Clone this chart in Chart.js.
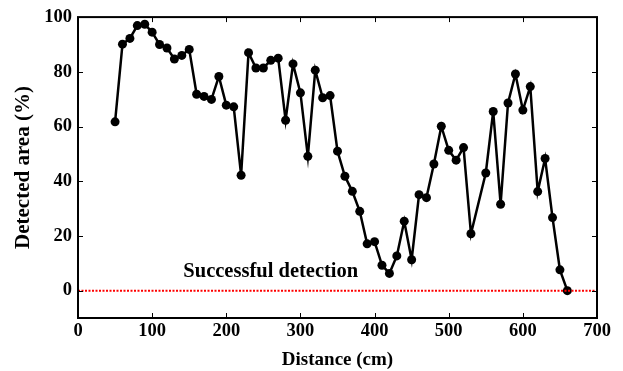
<!DOCTYPE html>
<html>
<head>
<meta charset="utf-8">
<script src="https://cdn.jsdelivr.net/npm/chart.js@4/dist/chart.umd.min.js"></script>
<style>
  html, body { margin: 0; padding: 0; background: #fff; }
  #wrap { width: 623px; height: 371px; }
</style>
</head>
<body>
<div id="wrap"><canvas id="c" width="623" height="371"></canvas></div>
<script>
// ---- data ----
const distances = [50,60,70,80,90,100,110,120,130,140,150,160,170,180,190,200,210,220,230,240,250,260,270,280,290,300,310,320,330,340,350,360,370,380,390,400,410,420,430,440,450,460,470,480,490,500,510,520,530,550,560,570,580,590,600,610,620,630,640,650,660];
const detected = [61.7,90.1,92.2,96.9,97.4,94.5,90.0,88.7,84.7,86.0,88.2,71.8,71.0,69.9,78.3,67.8,67.2,42.2,87.0,81.4,81.4,84.2,85.0,62.3,82.9,72.3,49.1,80.6,70.5,71.3,51.0,41.8,36.3,29.0,17.1,17.9,9.3,6.3,12.7,25.4,11.3,35.1,34.0,46.3,60.1,51.3,47.7,52.3,20.8,43.0,65.5,31.6,68.6,79.2,66.0,74.6,36.2,48.3,26.7,7.6,0];
const thresholdX = [0, 700];
const thresholdY = [0, 0];
const xTicks = [0,100,200,300,400,500,600,700];
const yTicks = [0,20,40,60,80,100];
const labelText = 'Successful detection';
const labelPos = [260, 7];
const xTitle = 'Distance (cm)';
const yTitle = 'Detected area (%)';

const FONT = '"Liberation Serif", "Times New Roman", serif';

const series = distances.map((d, i) => ({ x: d, y: detected[i] }));
const threshold = thresholdX.map((d, i) => ({ x: d, y: thresholdY[i] }));

const framePlugin = {
  id: 'frame',
  afterDatasetsDraw(chart) {
    const { ctx, chartArea: a, scales } = chart;
    const xs = scales.x, ys = scales.y;
    ctx.save();
    // label
    ctx.fillStyle = '#000';
    ctx.font = 'bold 20.5px ' + FONT;
    ctx.textAlign = 'center';
    ctx.textBaseline = 'middle';
    ctx.fillText(labelText, xs.getPixelForValue(labelPos[0]), ys.getPixelForValue(labelPos[1]));
    // frame
    ctx.strokeStyle = '#000';
    ctx.lineWidth = 2;
    ctx.strokeRect(a.left, a.top, a.right - a.left, a.bottom - a.top);
    // inward ticks
    ctx.lineWidth = 1;
    const tl = 5;
    xTicks.forEach(v => {
      const px = Math.round(xs.getPixelForValue(v)) + 0.5;
      ctx.beginPath();
      ctx.moveTo(px, a.bottom); ctx.lineTo(px, a.bottom - tl);
      ctx.moveTo(px, a.top); ctx.lineTo(px, a.top + tl);
      ctx.stroke();
    });
    yTicks.forEach(v => {
      const py = Math.round(ys.getPixelForValue(v)) + 0.5;
      ctx.beginPath();
      ctx.moveTo(a.left, py); ctx.lineTo(a.left + tl, py);
      ctx.moveTo(a.right, py); ctx.lineTo(a.right - tl, py);
      ctx.stroke();
    });
    ctx.restore();
  }
};

new Chart(document.getElementById('c'), {
  type: 'line',
  data: {
    datasets: [
      {
        data: threshold,
        borderColor: '#ff0000',
        borderWidth: 2,
        borderDash: [2, 1.5],
        pointRadius: 0,
        fill: false
      },
      {
        data: series,
        borderColor: '#000',
        backgroundColor: '#000',
        borderWidth: 2.5,
        pointRadius: 4.5,
        pointBackgroundColor: '#000',
        pointBorderColor: '#000',
        pointBorderWidth: 0,
        tension: 0,
        fill: false
      }
    ]
  },
  options: {
    responsive: false,
    animation: false,
    devicePixelRatio: 1,
    plugins: { legend: { display: false }, tooltip: { enabled: false } },
    layout: { padding: { top: 16, right: 26, left: 0, bottom: 0 } },
    scales: {
      x: {
        type: 'linear',
        min: 0, max: 700,
        afterBuildTicks(s) { s.ticks = xTicks.map(v => ({ value: v })); },
        afterFit(s) { s.height = 53; },
        grid: { display: false, drawTicks: false },
        border: { display: false },
        ticks: { color: '#000', padding: 2, maxRotation: 0, autoSkip: false, font: { family: FONT, size: 18.5, weight: 'bold' } },
        title: { display: true, text: xTitle, color: '#000', padding: { top: 0, bottom: 0 }, font: { family: FONT, size: 19, weight: 'bold' } }
      },
      y: {
        type: 'linear',
        min: -10, max: 100,
        afterBuildTicks(s) { s.ticks = yTicks.map(v => ({ value: v })); },
        afterFit(s) { s.width = 78; },
        grid: { display: false, drawTicks: false },
        border: { display: false },
        ticks: { color: '#000', padding: 6, autoSkip: false, font: { family: FONT, size: 18.5, weight: 'bold' } },
        title: { display: true, text: yTitle, color: '#000', padding: { top: 11, bottom: 0 }, font: { family: FONT, size: 21, weight: 'bold' } }
      }
    }
  },
  plugins: [framePlugin]
});
</script>
</body>
</html>
